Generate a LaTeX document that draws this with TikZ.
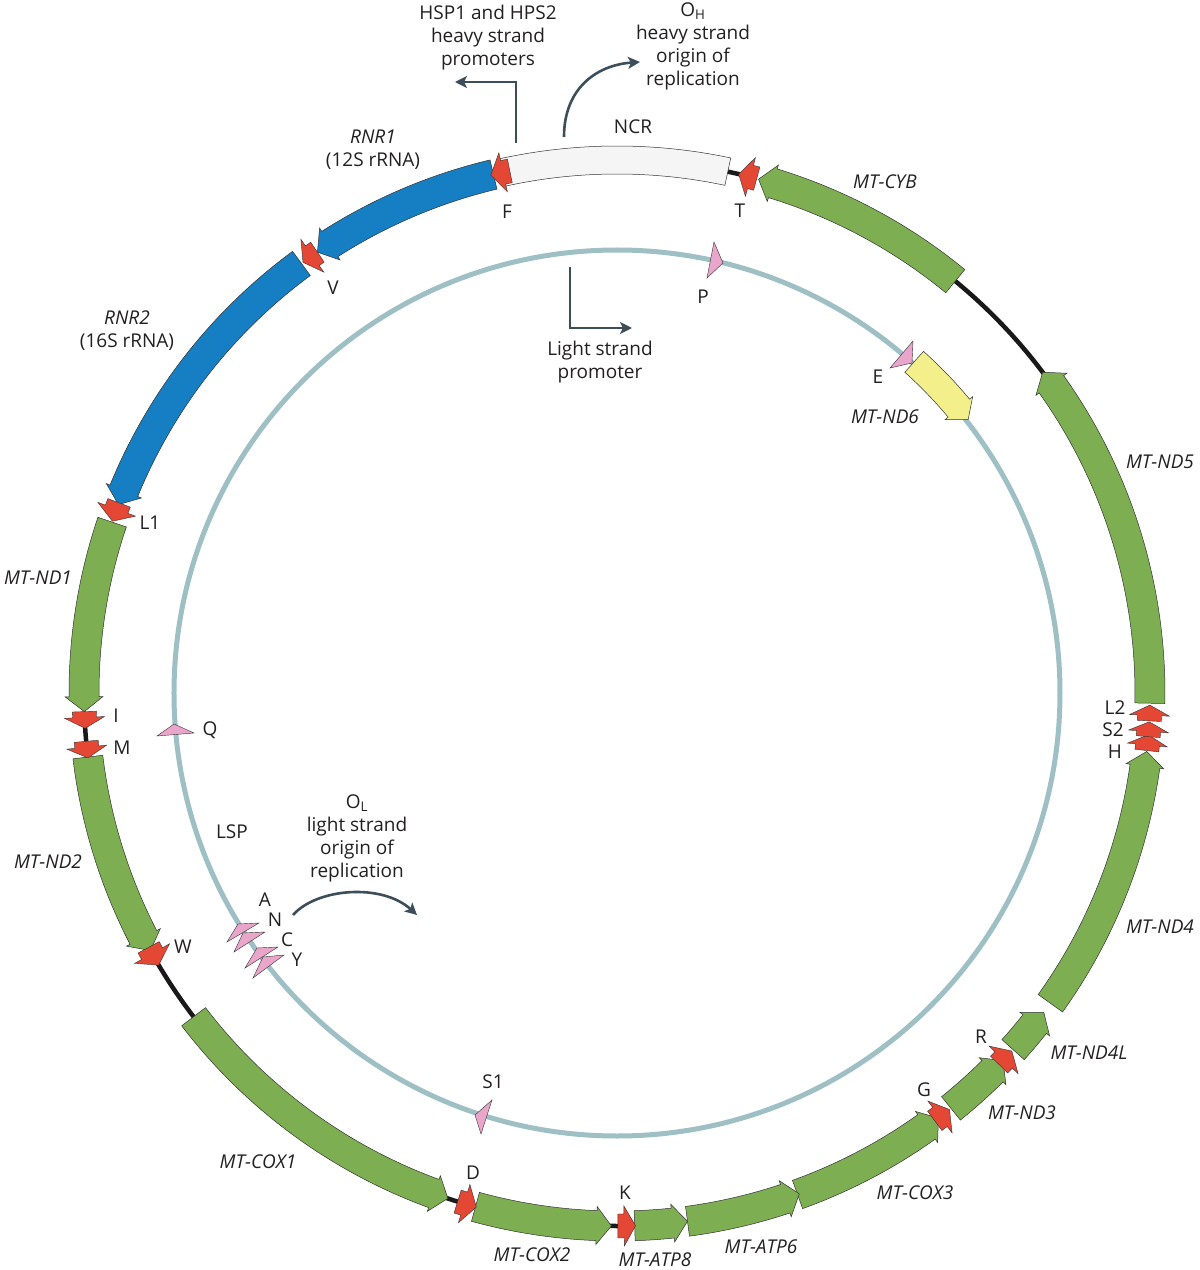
\documentclass[tikz,border=0pt]{standalone}
\usepackage{fontspec}
\setmainfont{Open Sans}
\usepackage{tikz}
\usetikzlibrary{arrows.meta,positioning,calc}

\definecolor{genegreen}{RGB}{125,175,82}
\definecolor{rrnablue}{RGB}{22,126,194}
\definecolor{trnared}{RGB}{228,72,52}
\definecolor{trnapink}{RGB}{234,166,202}
\definecolor{ndsixyellow}{RGB}{243,240,140}
\definecolor{lightring}{RGB}{158,191,196}
\definecolor{arrowslate}{RGB}{60,78,90}
\definecolor{labelgrey}{RGB}{35,31,32}

% gene arrow on the outer ring, tail angle -> tip angle (counterclockwise)
\newcommand{\gene}[3][genebox]{\pgfmathsetmacro\gh{(#3)-1.6}\path[#1] (#2:518) arc[start angle=#2, end angle=\gh, radius=518] -- (\gh:514) -- (#3:533) -- (\gh:552) -- (\gh:548) arc[start angle=\gh, end angle=#2, radius=548] -- cycle;}
% tRNA marker on the outer ring
\newcommand{\trna}[2]{\pgfmathsetmacro\tm{(#1)+0.35*((#2)-(#1))}\path[trnabox] (#1:521) arc[start angle=#1, end angle=\tm, radius=521] -- (\tm:513) -- (#2:533) -- (\tm:553) -- (\tm:545) arc[start angle=\tm, end angle=#1, radius=545] -- cycle;}

\begin{document}
\begin{tikzpicture}[x=1pt,y=1pt,
 every node/.style={font=\fontsize{19}{23}\selectfont,text=labelgrey,inner sep=0pt,align=center},
 genename/.style={font=\fontsize{19}{23}\selectfont\itshape},
 genebox/.style={fill=genegreen,draw=black!80,line width=0.5pt},
 rrnabox/.style={fill=rrnablue,draw=black!80,line width=0.5pt},
 ncrbox/.style={fill=black!4,draw=black!80,line width=0.5pt},
 ndsixbox/.style={fill=ndsixyellow,draw=black!80,line width=0.5pt},
 trnabox/.style={fill=trnared,draw=black!80,line width=0.4pt},
 pinkbox/.style={fill=trnapink,draw=black!80,line width=0.4pt},
 heavyline/.style={line width=4.5pt,black!90},
 lightline/.style={line width=5pt,lightring},
 promoter/.style={line width=2.6pt,arrowslate,-{Stealth[length=12pt,width=12pt,inset=3pt]}}]
\useasboundingbox (-617,-577) rectangle (583,693);

% light strand ring
\draw[lightline] (0,0) circle[radius=443];

% heavy strand spacers
\draw[heavyline] (76:533) arc[start angle=76,end angle=78.5,radius=533];
\draw[heavyline] (36:533) arc[start angle=36,end angle=51,radius=533];
\draw[heavyline] (-91:533) arc[start angle=-91,end angle=-89,radius=533];
\draw[heavyline] (-109:533) arc[start angle=-109,end angle=-106,radius=533];
\draw[heavyline] (209:533) arc[start angle=209,end angle=218,radius=533];
\draw[heavyline] (183:533) arc[start angle=183,end angle=186,radius=533];

% NCR
\path[ncrbox] (78:519) arc[start angle=78,end angle=102.4,radius=519] -- (102.4:547) arc[start angle=102.4,end angle=78,radius=547] -- cycle;

% genes
\gene{50.6}{74.6}
\gene{-1.1}{37.0}
\gene{-35.6}{-6.3}
\gene{-42.0}{-36.8}
\gene{-51.2}{-43.6}
\gene{-70.2}{-52.9}
\gene{-82.4}{-70.0}
\gene{-88.1}{-82.4}
\gene{-105.4}{-90.6}
\gene{-142.6}{-108.5}
\gene{186.9}{208.9}
\gene{161.3}{182.0}
\gene[rrnabox]{126.3}{159.3}
\gene[rrnabox]{103.4}{124.2}

% tRNAs
\trna{74.8}{76.8}
\trna{101.6}{103.7}
\trna{124.2}{126.1}
\trna{159.1}{161.2}
\trna{182.0}{183.8}
\trna{185.2}{187.0}
\trna{208.5}{210.7}
\trna{-107.4}{-105.3}
\trna{-89.9}{-88.0}
\trna{-53.4}{-51.4}
\trna{-44.2}{-42.2}
\trna{-6.2}{-4.5}
\trna{-4.7}{-3.1}
\trna{-3.0}{-1.3}

% MT-ND6 on the light strand
\path[ndsixbox] (48.1:431) arc[start angle=48.1,end angle=39.8,radius=431] -- (39.8:427) -- (37.9:445) -- (39.8:463) -- (39.8:459) arc[start angle=39.8,end angle=48.1,radius=459] -- cycle;

% light strand tRNAs
\path[pinkbox] (97,451) -- (106,430) -- (90,415) -- cycle;
\path[pinkbox] (273,325) -- (296,352) -- (295,330) -- cycle;
\path[pinkbox] (-460,-43) -- (-443,-31) -- (-423,-40) -- cycle;
\path[pinkbox] (-379,-231) -- (-358,-230) -- (-390,-249) -- cycle;
\path[pinkbox] (-374,-240) -- (-352,-239) -- (-383,-259) -- cycle;
\path[pinkbox] (-360,-255) -- (-339,-254) -- (-372,-275) -- cycle;
\path[pinkbox] (-354,-264) -- (-333,-262) -- (-364,-285) -- cycle;
\path[pinkbox] (-125,-407) -- (-142,-422) -- (-136,-441) -- cycle;

% promoters and origins
\coordinate (hspfoot) at (-101,550);
\coordinate (hsptip) at (-162,611);
\coordinate (ohfoot) at (-53,556);
\coordinate (ohtip) at (23,631);
\coordinate (lspfoot) at (-47,426);
\coordinate (lsptip) at (15,365);
\coordinate (olfoot) at (-324,-222);
\coordinate (oltip) at (-200,-222);
\draw[promoter] (hspfoot) |- (hsptip);
\draw[promoter] (ohfoot) .. controls (-53,605) and (-20,628) .. (ohtip);
\draw[promoter] (lspfoot) |- (lsptip);
\draw[promoter] (olfoot) .. controls (-300,-195) and (-235,-190) .. (oltip);

% labels
\node (hsp) at (-129,655) {HSP1 and HPS2\\heavy strand\\promoters};
\node (oh) at (76,647) {O\textsubscript{H}\\heavy strand\\origin of\\replication};
\node (ncr) at (16,566) {NCR};
\node (lsptext) at (-17,331) {Light strand\\promoter};
\node (ol) at (-260,-145) {O\textsubscript{L}\\light strand\\origin of\\replication};
\node (lsp) at (-385,-139) {LSP};
\node[genename] (cyb) at (268,511) {MT-CYB};
\node[genename] (nd5) at (543,231) {MT-ND5};
\node[genename] (nd4) at (543,-234) {MT-ND4};
\node[genename] (nd4l) at (472,-360) {MT-ND4L};
\node[genename] (nd3) at (405,-420) {MT-ND3};
\node[genename] (cox3) at (298,-500) {MT-COX3};
\node[genename] (atp6) at (144,-554) {MT-ATP6};
\node[genename] (atp8) at (38,-567) {MT-ATP8};
\node[genename] (cox2) at (-85,-562) {MT-COX2};
\node[genename] (cox1) at (-359,-469) {MT-COX1};
\node[genename] (nd2) at (-569,-169) {MT-ND2};
\node[genename] (nd1) at (-579,115) {MT-ND1};
\node[genename] (nd6) at (268,276) {MT-ND6};
\node (rnr2) at (-490,362) {\textit{RNR2}\\(16S rRNA)};
\node (rnr1) at (-244,543) {\textit{RNR1}\\(12S rRNA)};
\node (tT) at (123,482) {T};
\node (tF) at (-110,481) {F};
\node (tV) at (-284,405) {V};
\node (tL1) at (-467,170) {L1};
\node (tI) at (-501,-23) {I};
\node (tM) at (-495,-55) {M};
\node (tW) at (-434,-254) {W};
\node (tD) at (-144,-480) {D};
\node (tK) at (8,-500) {K};
\node (tG) at (307,-397) {G};
\node (tR) at (364,-344) {R};
\node (tL2) at (498,-15) {L2};
\node (tS2) at (496,-37) {S2};
\node (tH) at (498,-59) {H};
\node (tP) at (86,396) {P};
\node (tE) at (261,316) {E};
\node (tQ) at (-407,-37) {Q};
\node (tA) at (-352,-207) {A};
\node (tN) at (-342,-227) {N};
\node (tC) at (-330,-247) {C};
\node (tY) at (-320,-267) {Y};
\node (tS1) at (-124,-389) {S1};
\end{tikzpicture}
\end{document}
